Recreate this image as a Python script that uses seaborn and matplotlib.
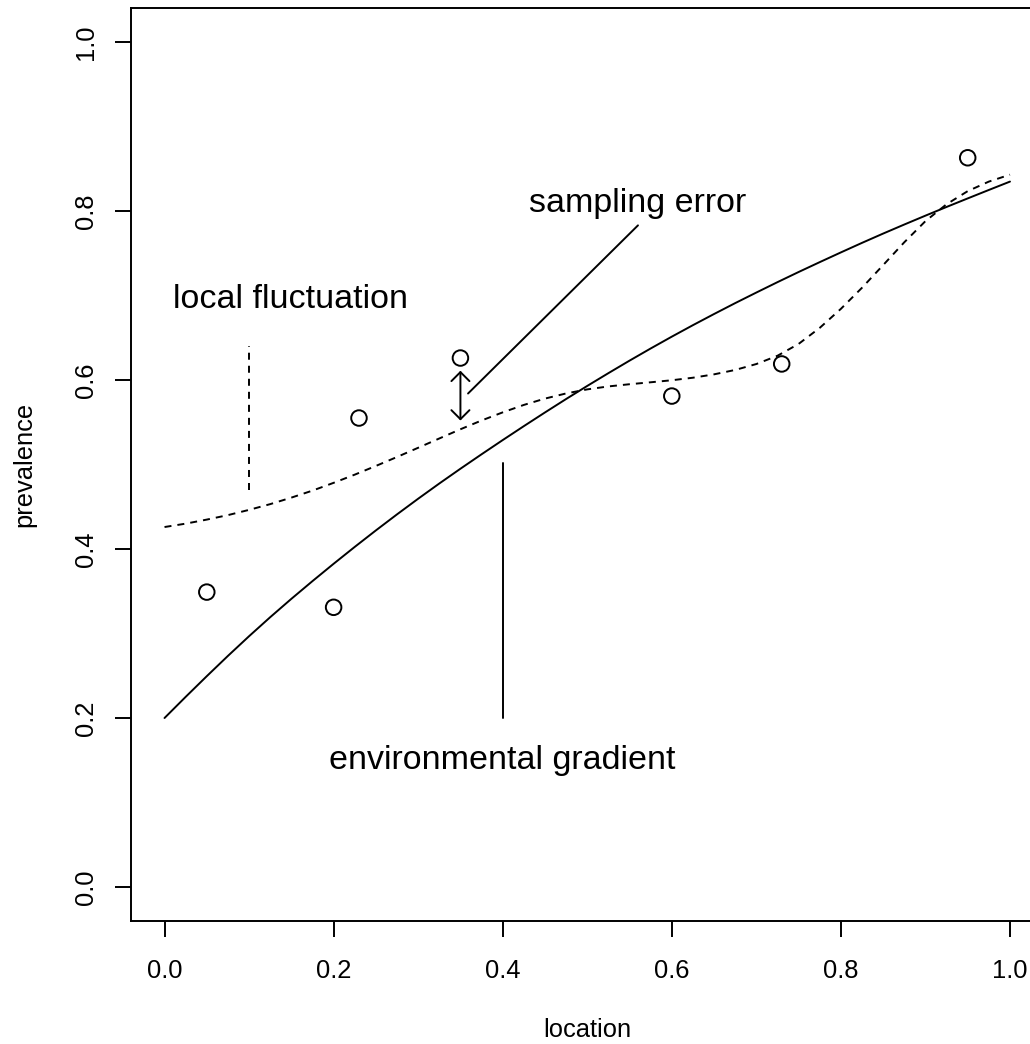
import numpy as np
import pandas as pd
import matplotlib
matplotlib.use("Agg")
import matplotlib.pyplot as plt
import seaborn as sns

# ---- data ----
obs_x = [0.05, 0.20, 0.23, 0.35, 0.60, 0.73, 0.95]
obs_y = [0.349, 0.331, 0.555, 0.626, 0.581, 0.619, 0.863]

curve_x = [0.000, 0.025, 0.050, 0.075, 0.100, 0.125, 0.150, 0.175, 0.200, 0.225,
           0.250, 0.275, 0.300, 0.325, 0.350, 0.375, 0.400, 0.425, 0.450, 0.475,
           0.500, 0.525, 0.550, 0.575, 0.600, 0.625, 0.650, 0.675, 0.700, 0.725,
           0.750, 0.775, 0.800, 0.825, 0.850, 0.875, 0.900, 0.925, 0.950, 0.975,
           1.000]
trend_y = [0.2000, 0.2250, 0.2495, 0.2735, 0.2968, 0.3193, 0.3410, 0.3620, 0.3825, 0.4025,
           0.4220, 0.4410, 0.4595, 0.4775, 0.4950, 0.5121, 0.5289, 0.5454, 0.5616, 0.5775,
           0.5930, 0.6081, 0.6229, 0.6373, 0.6513, 0.6649, 0.6781, 0.6910, 0.7035, 0.7158,
           0.7278, 0.7395, 0.7510, 0.7623, 0.7733, 0.7840, 0.7945, 0.8048, 0.8149, 0.8249,
           0.8348]
local_y = [0.4260, 0.4300, 0.4348, 0.4401, 0.4463, 0.4531, 0.4608, 0.4691, 0.4783, 0.4880,
           0.4983, 0.5089, 0.5198, 0.5308, 0.5417, 0.5521, 0.5617, 0.5705, 0.5780, 0.5841,
           0.5889, 0.5924, 0.5950, 0.5973, 0.5997, 0.6027, 0.6067, 0.6119, 0.6189, 0.6287,
           0.6427, 0.6617, 0.6842, 0.7092, 0.7360, 0.7630, 0.7880, 0.8080, 0.8235, 0.8348,
           0.8430]

ticks = [0.0, 0.2, 0.4, 0.6, 0.8, 1.0]
tick_labels = ["0.0", "0.2", "0.4", "0.6", "0.8", "1.0"]

labels = ["local fluctuation", "sampling error", "environmental gradient"]
label_x = [0.149, 0.560, 0.400]
label_y = [0.700, 0.814, 0.154]

fluct_seg_x = [0.10, 0.10]
fluct_seg_y = [0.470, 0.640]
samp_seg_x = [0.359, 0.560]
samp_seg_y = [0.584, 0.783]
env_seg_x = [0.40, 0.40]
env_seg_y = [0.200, 0.502]
arrow_x = 0.35
arrow_y = [0.552, 0.611]

# ---- styling ----
sns.set_theme(style="white", rc={
    "axes.edgecolor": "black",
    "axes.linewidth": 1.4,
    "xtick.bottom": True,
    "ytick.left": True,
    "xtick.major.size": 11.5,
    "ytick.major.size": 11.5,
    "xtick.major.width": 1.4,
    "ytick.major.width": 1.4,
    "xtick.color": "black",
    "ytick.color": "black",
    "text.color": "black",
    "axes.labelcolor": "black",
})
plt.rcParams["font.family"] = ["Liberation Sans", "DejaVu Sans"]

fig = plt.figure(figsize=(10.30, 10.44), dpi=100)
ax = fig.add_axes([130.7 / 1030, (1044 - 920.8) / 1044, 913.1 / 1030, 912.6 / 1044])

df_curve = pd.DataFrame({"x": curve_x, "trend": trend_y, "local": local_y})
df_obs = pd.DataFrame({"x": obs_x, "y": obs_y})

sns.lineplot(data=df_curve, x="x", y="trend", ax=ax, color="black", lw=1.4)
sns.lineplot(data=df_curve, x="x", y="local", ax=ax, color="black", lw=1.4,
             linestyle=(0, (3.6, 3.1)))
sns.scatterplot(data=df_obs, x="x", y="y", ax=ax, marker="o", s=125,
                color="black", edgecolor="black", linewidth=1.4, zorder=3)
ax.collections[-1].set_facecolor("none")

ax.plot(fluct_seg_x, fluct_seg_y, color="black", lw=1.4, linestyle=(0, (3.6, 3.1)))
ax.plot(samp_seg_x, samp_seg_y, color="black", lw=1.4)
ax.plot(env_seg_x, env_seg_y, color="black", lw=1.4)
ax.annotate("", xy=(arrow_x, arrow_y[1]), xytext=(arrow_x, arrow_y[0]),
            arrowprops=dict(arrowstyle="<->,head_length=0.65,head_width=0.65",
                            shrinkA=0, shrinkB=0, lw=1.4, color="black",
                            mutation_scale=10))

for s, x, y in zip(labels, label_x, label_y):
    ax.annotate(s, xy=(x, y), xytext=(0, -9), textcoords="offset points",
                ha="center", va="baseline", fontsize=24.5)

ax.set_xlim(-0.04, 1.04)
ax.set_ylim(-0.04, 1.04)
ax.set_xticks(ticks)
ax.set_xticklabels(tick_labels)
ax.set_yticks(ticks)
ax.set_yticklabels(tick_labels, rotation=90, va="center")
ax.tick_params(axis="x", labelsize=18.4, pad=16)
ax.tick_params(axis="y", labelsize=18.4, pad=12)
ax.set_xlabel("location", fontsize=18.4, labelpad=25)
ax.set_ylabel("prevalence", fontsize=18.4, labelpad=27)

fig.savefig("out.png", dpi=100)
